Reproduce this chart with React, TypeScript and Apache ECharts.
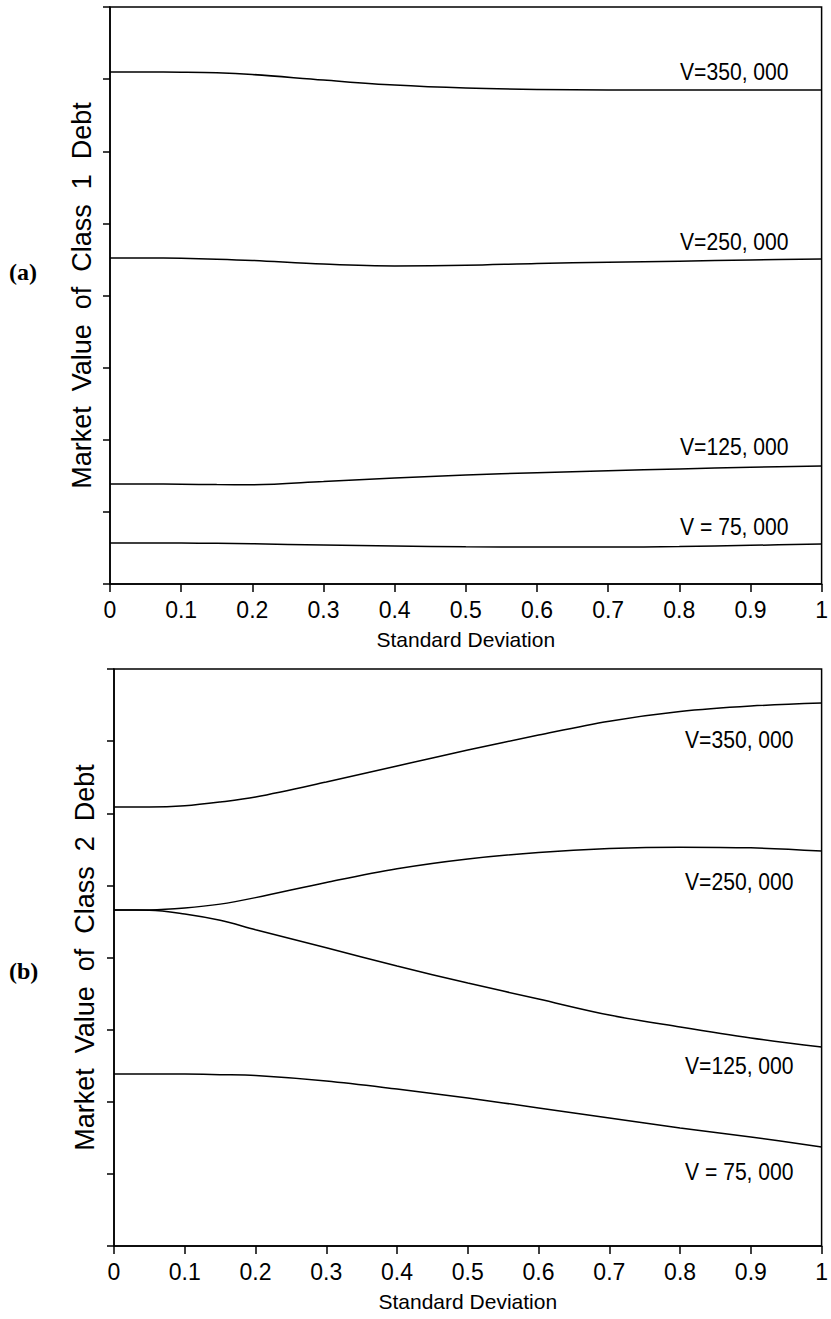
import React, { useEffect, useRef } from "react";
import * as echarts from "echarts";

const sigma = [0, 0.05, 0.1, 0.15, 0.2, 0.3, 0.4, 0.5, 0.6, 0.7, 0.8, 0.9, 1.0];

// Panel (a): Market value of Class 1 debt
const a350 = [354.9, 354.9, 354.8, 354.4, 353.2, 349.4, 345.9, 343.8, 342.8, 342.5, 342.5, 342.5, 342.5];
const a250 = [226.0, 226.0, 225.8, 225.2, 224.3, 221.8, 220.5, 220.9, 222.2, 223.0, 223.8, 224.6, 225.3];
const a125 = [69.3, 69.3, 69.2, 68.9, 68.8, 71.0, 73.5, 75.5, 77.2, 78.5, 79.8, 80.9, 81.8];
const a75 = [28.4, 28.4, 28.4, 28.2, 27.9, 27.0, 26.3, 25.8, 25.6, 25.6, 26.0, 26.8, 27.7];

// Panel (b): Market value of Class 2 debt
const b350 = [304.3, 304.3, 305.2, 307.8, 311.3, 321.7, 332.8, 343.8, 354.2, 363.8, 370.5, 374.3, 376.4];
const b250 = [232.9, 233.0, 234.3, 237.0, 241.5, 252.0, 261.5, 268.3, 272.8, 275.5, 276.5, 276.0, 273.8];
const b125 = [232.9, 232.8, 230.2, 225.8, 219.3, 206.8, 194.1, 182.3, 171.2, 160.1, 151.8, 144.2, 137.9];
const b75 = [119.2, 119.2, 119.2, 118.8, 118.2, 114.4, 108.8, 102.6, 95.7, 88.7, 81.8, 75.6, 68.6];

const seriesLabels = ["V=350, 000", "V=250, 000", "V=125, 000", "V = 75, 000"];

const sans = "'Liberation Sans', Arial, Helvetica, sans-serif";
const serif = "'Liberation Serif', 'Times New Roman', serif";

function pairs(ys: number[]) {
  return sigma.map((x, i) => [x, ys[i]]);
}

export default function App() {
  const ref = useRef<HTMLDivElement>(null);
  useEffect(() => {
    if (!ref.current) return;
    const chart = echarts.init(ref.current, undefined, { renderer: "svg" });
    const xAxisBase = (gridIndex: number) => ({
      type: "value",
      gridIndex,
      min: 0,
      max: 1,
      interval: 0.1,
      name: "Standard Deviation",
      nameLocation: "middle",
      nameGap: 45,
      nameTextStyle: { fontFamily: sans, fontSize: 21, color: "#000" },
      axisLine: { show: true, lineStyle: { color: "#000", width: 1.5 } },
      axisTick: { show: true, length: 8, lineStyle: { color: "#000", width: 1.5 } },
      axisLabel: { fontFamily: sans, fontSize: 23, color: "#000", margin: 14 },
      splitLine: { show: false },
    });
    const yAxisBase = (gridIndex: number, name: string, gap: number) => ({
      type: "value",
      gridIndex,
      min: 0,
      max: 400,
      interval: 50,
      name,
      nameLocation: "middle",
      nameGap: gap,
      nameTextStyle: { fontFamily: sans, fontSize: 27, color: "#000" },
      axisLine: { show: true, lineStyle: { color: "#000", width: 1.5 } },
      axisTick: { show: true, length: 7, lineStyle: { color: "#000", width: 1.5 } },
      axisLabel: { show: false },
      splitLine: { show: false },
    });
    const line = (data: number[], xi: number) => ({
      type: "line",
      xAxisIndex: xi,
      yAxisIndex: xi,
      data: pairs(data),
      smooth: 0.35,
      showSymbol: false,
      symbol: "none",
      lineStyle: { color: "#000", width: 1.5 },
    });
    const label = (text: string, x: number, y: number) => ({
      type: "text",
      x,
      y,
      scaleX: 0.88,
      style: { text, fontFamily: sans, fontSize: 24, fill: "#000", verticalAlign: "middle" },
    });
    chart.setOption({
      animation: false,
      backgroundColor: "#fff",
      grid: [
        { left: 110, top: 7, width: 716, height: 577, show: true, borderColor: "#000", borderWidth: 1.5 },
        { left: 114, top: 669, width: 716, height: 577, show: true, borderColor: "#000", borderWidth: 1.5 },
      ],
      xAxis: [xAxisBase(0), xAxisBase(1)],
      yAxis: [
        yAxisBase(0, "Market  Value  of  Class  1  Debt", 15),
        yAxisBase(1, "Market  Value  of  Class  2  Debt", 16),
      ],
      series: [
        line(a350, 0), line(a250, 0), line(a125, 0), line(a75, 0),
        line(b350, 1), line(b250, 1), line(b125, 1), line(b75, 1),
      ],
      graphic: [
        label(seriesLabels[0], 680, 72),
        label(seriesLabels[1], 680, 242),
        label(seriesLabels[2], 680, 447),
        label(seriesLabels[3], 680, 527),
        label(seriesLabels[0], 685, 740),
        label(seriesLabels[1], 685, 882),
        label(seriesLabels[2], 685, 1066),
        label(seriesLabels[3], 685, 1172),
        {
          type: "text", x: 9, y: 272,
          style: { text: "(a)", fontFamily: serif, fontSize: 24, fontWeight: "bold", fill: "#000", verticalAlign: "middle" },
        },
        {
          type: "text", x: 9, y: 971,
          style: { text: "(b)", fontFamily: serif, fontSize: 24, fontWeight: "bold", fill: "#000", verticalAlign: "middle" },
        },
      ],
    });
    return () => chart.dispose();
  }, []);
  return (
    <div
      ref={ref}
      style={{ position: "absolute", left: 0, top: 0, width: 831, height: 1319, background: "#fff" }}
    />
  );
}
